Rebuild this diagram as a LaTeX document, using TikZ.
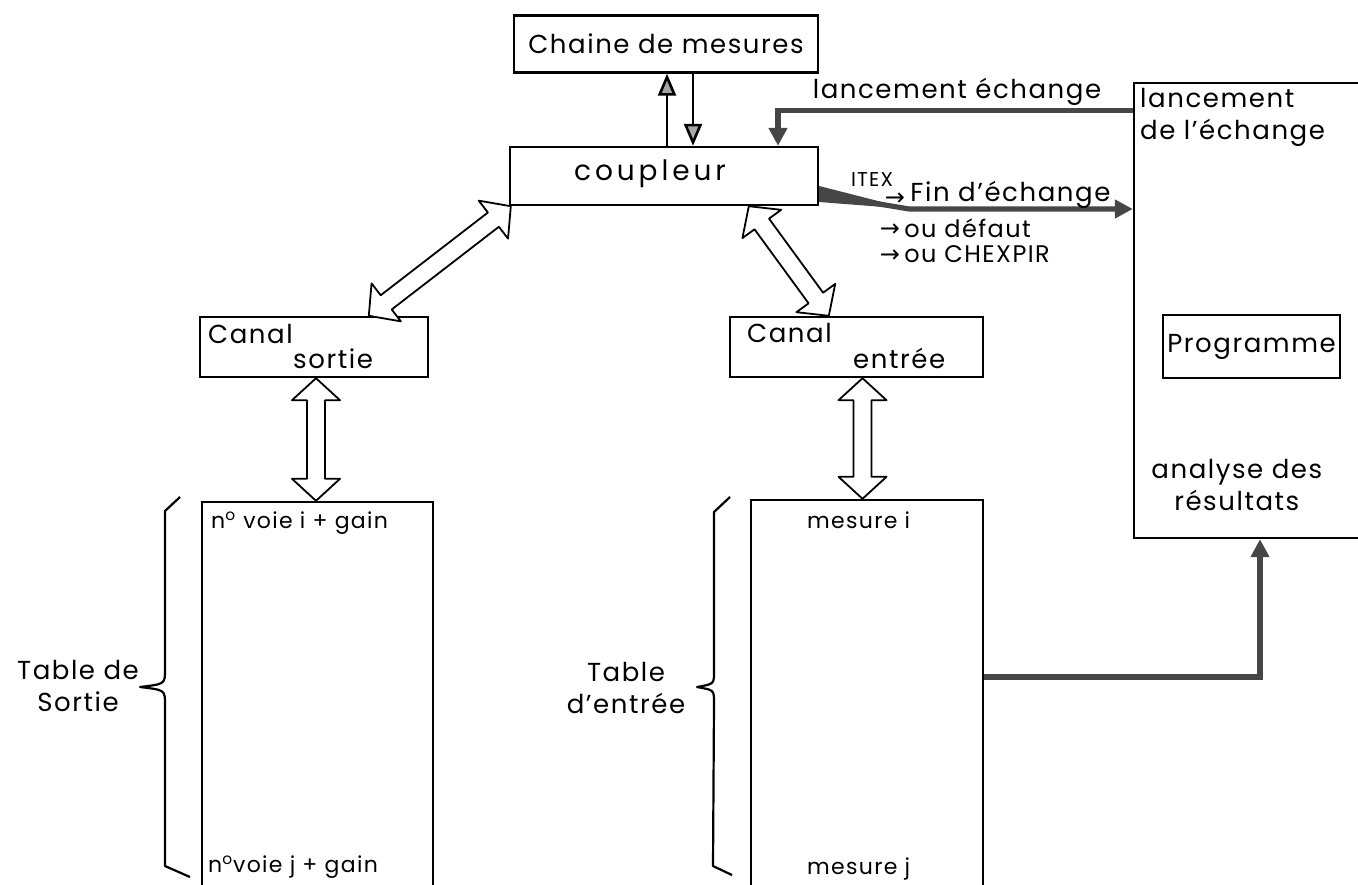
\documentclass[tikz,border=0pt]{standalone}
\usepackage{fontspec}
\setmainfont{Poppins}[LetterSpace=6]
\newfontfamily\symfnt{DejaVu Sans}
\usetikzlibrary{arrows.meta,calc}
\newcommand\dblarr[2]{%
  \path ($(#1)!11pt!(#2)$) coordinate (p1) ($(#2)!11pt!(#1)$) coordinate (p2);
  \draw[hollow] (#1) -- ($(p1)!12pt!90:(#2)$) -- ($(p1)!4.5pt!90:(#2)$)
    -- ($(p2)!4.5pt!-90:(#1)$) -- ($(p2)!12pt!-90:(#1)$) -- (#2)
    -- ($(p2)!12pt!90:(#1)$) -- ($(p2)!4.5pt!90:(#1)$)
    -- ($(p1)!4.5pt!-90:(#2)$) -- ($(p1)!12pt!-90:(#2)$) -- cycle;}
\begin{document}
\begin{tikzpicture}[x=0.5pt,y=-0.5pt,
  box/.style={draw=black, line width=1.2pt, fill=white, inner sep=0pt, rectangle},
  big/.style={font=\fontsize{13}{16}\selectfont},
  lbl/.style={inner sep=0pt, font=\fontsize{13}{16}\selectfont},
  mid/.style={inner sep=0pt, font=\fontsize{12}{13}\selectfont},
  small/.style={inner sep=0pt, font=\fontsize{11}{13}\selectfont},
  tiny/.style={inner sep=0pt, font=\fontsize{10}{11}\selectfont},
  sym/.style={inner sep=0pt, font=\symfnt\fontsize{12}{12}\selectfont},
  tarrow/.style={draw=black, line width=1.3pt, -{Triangle[length=11pt,width=9pt,fill=gray!70]}},
  garrow/.style={draw=gray!55!black, line width=2.6pt, -{Triangle[length=9pt,width=9pt]}},
  hollow/.style={draw=black, line width=0.9pt, fill=white, line join=round},
  brace/.style={draw=black, line width=1.1pt, line join=round}
]
\useasboundingbox (0,0) rectangle (1358,884);
\clip (0,0) rectangle (1358,884);

% boxes
\node[box, big, minimum width=152pt, minimum height=28.5pt] (ch) at (666,44) {Chaine de mesures};
\node[box, minimum width=154pt, minimum height=29pt] (coup) at (664,176) {};
\node[lbl, font=\fontsize{14}{16}\selectfont\addfontfeature{LetterSpace=14}] (coupt) at (650,174) {coupleur};
\node[box, minimum width=114pt, minimum height=30pt] (cs) at (314,347) {};
\node[box, minimum width=126.5pt, minimum height=30pt] (ce) at (856.5,347) {};
\node[lbl, anchor=west] (cst1) at ($(cs.north west)+(9,18)$) {Canal};
\node[lbl, anchor=west] (cst2) at ($(cs.north west)+(94,43)$) {sortie};
\node[lbl, anchor=west] (cet1) at ($(ce.north west)+(18,17)$) {Canal};
\node[lbl, anchor=west] (cet2) at ($(ce.north west)+(124,43)$) {entrée};
\node[box, minimum width=115.5pt, minimum height=194pt] (ts) at (317.5,696) {};
\node[box, minimum width=116pt, minimum height=195pt] (te) at (867,695) {};
\node[box, minimum width=122pt, minimum height=227.5pt] (lanc) at (1256,310.5) {};
\node[box, big, minimum width=88.5pt, minimum height=31.5pt] (prog) at (1251.5,346.5) {Programme};

% texts in big box
\node[lbl, anchor=north west, align=left] (lt) at ($(lanc.north west)+(7,6)$) {lancement\\de l'échange};
\node[lbl, align=center] (an) at ($(lanc.south west)+(104,-54)$) {analyse des\\résultats};

% table texts
\node[small, anchor=west] (ti) at ($(ts.north west)+(10,22)$) {n\textsuperscript{o} voie i + gain};
\node[small, anchor=west] (tj) at ($(ts.north west)+(7,366)$) {n\textsuperscript{o}voie j + gain};
\node[small, anchor=west] (mi) at ($(te.north west)+(57,21)$) {mesure i};
\node[small, anchor=west] (mj) at ($(te.north west)+(57,370)$) {mesure j};

% table labels + braces
\node[lbl, align=center] (tsl) at (78,686) {Table de\\Sortie};
\node[lbl, align=center] (tel) at (626,688) {Table\\d'entrée};
\draw[brace] (180,497) -- (165,511) -- (165,670) .. controls (165,684) .. (140,687)
  .. controls (165,690) .. (165,704) -- (165,866) -- (190,877);
\draw[brace] (730,497) -- (714,512) -- (714,672) .. controls (714,684) .. (697,687)
  .. controls (714,690) .. (714,702) -- (713,866) -- (732,875);

% chaine <-> coupleur
\coordinate (u1) at ($(coup.north)+(3,0)$);
\coordinate (d1) at ($(ch.south)+(27,0)$);
\draw[tarrow] (u1) -- (u1 |- ch.south);
\draw[tarrow] (d1) -- (d1 |- coup.north);

% lancement echange
\coordinate (le0) at ($(lanc.north west)+(0,29)$);
\coordinate (le1) at ($(coup.north)+(114,0)$);
\draw[garrow] (le0) -| (le1);
\node[lbl, anchor=south] (let) at (957,106) {lancement échange};

% fin d'echange
\coordinate (f0) at ($(coup.east)+(0,18)$);
\coordinate (f1) at ($(coup.east)+(90,33)$);
\fill[gray!55!black] ($(f0)+(0,-8)$) -- (f1) -- ($(f0)+(0,8)$) -- cycle;
\draw[garrow] (f0) -- (f1) -- (f1 -| lanc.west);
\node[tiny] (itex) at (872,180) {ITEX};
\node[sym] (a1) at (895,199) {→};
\node[lbl, anchor=west] (fin) at (910,195) {Fin d'échange};
\node[sym] (a2) at (890,230) {→};
\node[mid, anchor=west] (def) at (904,228) {ou défaut};
\node[sym] (a3) at (890,256) {→};
\node[mid, anchor=west] (chx) at (904,254) {ou CHEXPIR};

% table entree -> analyse
\coordinate (b0) at ($(te.east)+(0,-18)$);
\coordinate (b1) at ($(lanc.south)+(4,0)$);
\draw[garrow] (b0) -| (b1);

% double hollow arrows
\coordinate (ld1) at ($(coup.south west)+(2,0)$);
\coordinate (ld2) at ($(cs.north west)+(170,0)$);
\dblarr{ld2}{ld1}
\coordinate (rd1) at ($(coup.south west)+(240,0)$);
\coordinate (rd2) at ($(ce.north west)+(100,0)$);
\dblarr{rd2}{rd1}
\coordinate (sv1) at ($(cs.south)+(2,0)$);
\coordinate (sv2) at (sv1 |- ts.north);
\dblarr{sv1}{sv2}
\coordinate (ev1) at ($(ce.south)+(6,0)$);
\coordinate (ev2) at (ev1 |- te.north);
\dblarr{ev1}{ev2}
\end{tikzpicture}
\end{document}
